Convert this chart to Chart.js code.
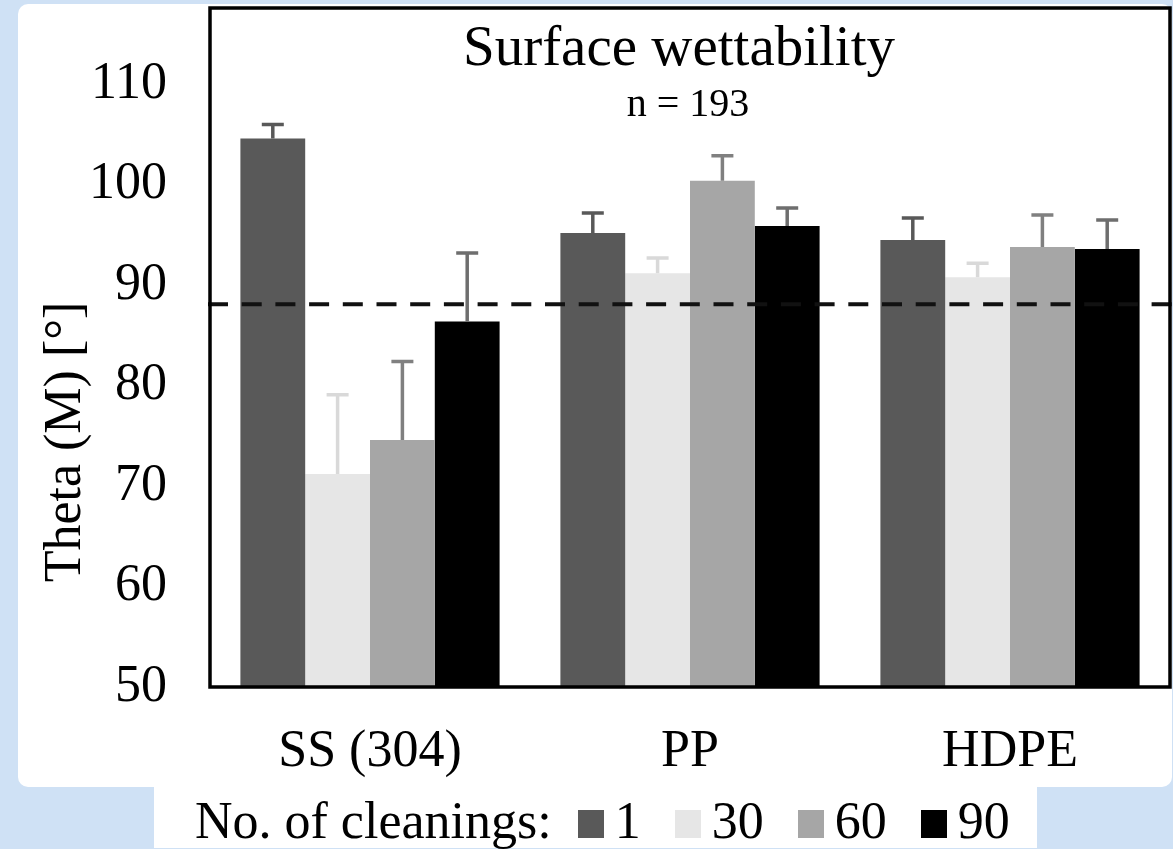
<!DOCTYPE html>
<html>
<head>
<meta charset="utf-8">
<script src="https://cdn.jsdelivr.net/npm/chart.js@4"></script>
<style>
html,body{margin:0;padding:0;background:#cfe1f5;width:1173px;height:849px;overflow:hidden;}
#panel{position:absolute;left:18px;top:4px;width:1154px;height:783px;background:#fff;border-radius:10px;}
#legendBox{position:absolute;left:154px;top:787px;width:883px;height:61px;background:#fff;}
#chartWrap{position:absolute;left:0;top:0;width:1173px;height:787px;}
#legend{position:absolute;left:195px;top:795px;display:flex;align-items:baseline;font-family:"Liberation Serif","Times New Roman",serif;font-size:52px;line-height:52px;color:#000;white-space:nowrap;}
#legend .sw{display:inline-block;width:26px;height:28px;margin-right:11px;}
#legend .item{display:flex;align-items:baseline;margin-right:34px;}
#legend .ttl{margin-right:26px;}
</style>
</head>
<body>
<div id="panel"></div>
<div id="legendBox"></div>
<div id="chartWrap"><canvas id="c" width="1173" height="787"></canvas></div>
<div id="legend"></div>
<script>
// ---- data ----
const categories = ['SS (304)', 'PP', 'HDPE'];
const seriesLabels = ['1', '30', '60', '90'];
const cleanings1  = [104.6, 95.2, 94.5];
const cleanings30 = [71.2, 91.2, 90.8];
const cleanings60 = [74.6, 100.4, 93.8];
const cleanings90 = [86.4, 95.9, 93.6];
const err1  = [1.4, 2.0, 2.2];
const err30 = [7.9, 1.5, 1.4];
const err60 = [7.8, 2.5, 3.2];
const err90 = [6.8, 1.8, 2.9];
const yTicks = [50, 60, 70, 80, 90, 100, 110];
const thresholdValue = 88.1;
const chartTitle = 'Surface wettability';
const chartSubtitle = 'n = 193';
const yAxisTitle = 'Theta (M) [°]';
const legendTitle = 'No. of cleanings:';

const barColors = ['#595959', '#e6e6e6', '#a6a6a6', '#000000'];
const errColors = ['#595959', '#d9d9d9', '#808080', '#6e6e6e'];
const FONT = '"Liberation Serif", "Times New Roman", serif';

const seriesValues = [cleanings1, cleanings30, cleanings60, cleanings90];
const seriesErrors = [err1, err30, err60, err90];

const datasets = seriesLabels.map((lab, i) => ({
  label: lab,
  data: seriesValues[i],
  errorPlus: seriesErrors[i],
  errorColor: errColors[i],
  backgroundColor: barColors[i],
  borderWidth: 0,
  barPercentage: 1,
  categoryPercentage: 0.81
}));

const errorBarPlugin = {
  id: 'errorBars',
  afterDatasetsDraw(chart) {
    const {ctx, scales: {y}} = chart;
    chart.data.datasets.forEach((ds, i) => {
      const meta = chart.getDatasetMeta(i);
      meta.data.forEach((bar, j) => {
        const top = y.getPixelForValue(ds.data[j] + ds.errorPlus[j]);
        ctx.save();
        ctx.strokeStyle = ds.errorColor;
        ctx.lineWidth = 3.5;
        ctx.beginPath();
        ctx.moveTo(bar.x, bar.y);
        ctx.lineTo(bar.x, top);
        ctx.moveTo(bar.x - 11, top);
        ctx.lineTo(bar.x + 11, top);
        ctx.stroke();
        ctx.restore();
      });
    });
  }
};

const decorPlugin = {
  id: 'decor',
  afterDraw(chart) {
    const {ctx, chartArea: a, scales: {y}} = chart;
    // threshold dashed line
    const yy = y.getPixelForValue(thresholdValue);
    ctx.save();
    ctx.strokeStyle = '#111';
    ctx.lineWidth = 4;
    ctx.setLineDash([20, 13.7]);
    ctx.beginPath();
    ctx.moveTo(a.left - 2, yy);
    ctx.lineTo(chart.width, yy);
    ctx.stroke();
    ctx.restore();
    // frame
    ctx.save();
    ctx.strokeStyle = '#000';
    ctx.lineWidth = 3.5;
    ctx.strokeRect(a.left, a.top, a.right - a.left, a.bottom - a.top);
    ctx.restore();
    // titles
    ctx.save();
    ctx.fillStyle = '#000';
    ctx.textAlign = 'center';
    ctx.textBaseline = 'alphabetic';
    ctx.font = '57px ' + FONT;
    const cx = (a.left + a.right) / 2;
    ctx.fillText(chartTitle, cx - 11, a.top + 57);
    ctx.font = '40px ' + FONT;
    ctx.fillText(chartSubtitle, cx - 2, a.top + 108);
    // y axis title
    ctx.font = '52px ' + FONT;
    ctx.translate(80, 442);
    ctx.rotate(-Math.PI / 2);
    ctx.fillText(yAxisTitle, 0, 0);
    ctx.restore();
  }
};

const chart = new Chart(document.getElementById('c'), {
  type: 'bar',
  data: { labels: categories, datasets },
  options: {
    responsive: false,
    animation: false,
    layout: { padding: { left: 0, right: 3, top: 8, bottom: 0 } },
    plugins: { legend: { display: false }, tooltip: { enabled: false }, title: { display: false } },
    scales: {
      x: {
        grid: { display: false, drawTicks: false },
        border: { display: false },
        ticks: { color: '#000', font: { family: FONT, size: 52 }, padding: 34 },
        afterFit(s) { s.height = 100; s.paddingLeft = 0; s.paddingRight = 0; s.paddingTop = 0; s.paddingBottom = 0; }
      },
      y: {
        min: 50,
        max: 117.6,
        grid: { display: false, drawTicks: false },
        border: { display: false },
        afterBuildTicks(s) { s.ticks = yTicks.map(v => ({ value: v })); },
        ticks: { color: '#000', font: { family: FONT, size: 52 }, padding: 43, includeBounds: false },
        afterFit(s) { s.width = 210; s.paddingTop = 0; s.paddingBottom = 0; s.paddingLeft = 0; s.paddingRight = 0; }
      }
    }
  },
  plugins: [errorBarPlugin, decorPlugin]
});

// HTML legend built from the chart datasets
const lg = document.getElementById('legend');
const t = document.createElement('span');
t.className = 'ttl';
t.textContent = legendTitle;
lg.appendChild(t);
chart.data.datasets.forEach(ds => {
  const it = document.createElement('span');
  it.className = 'item';
  const sw = document.createElement('span');
  sw.className = 'sw';
  sw.style.background = ds.backgroundColor;
  const tx = document.createElement('span');
  tx.textContent = ds.label;
  it.appendChild(sw);
  it.appendChild(tx);
  lg.appendChild(it);
});
</script>
</body>
</html>
